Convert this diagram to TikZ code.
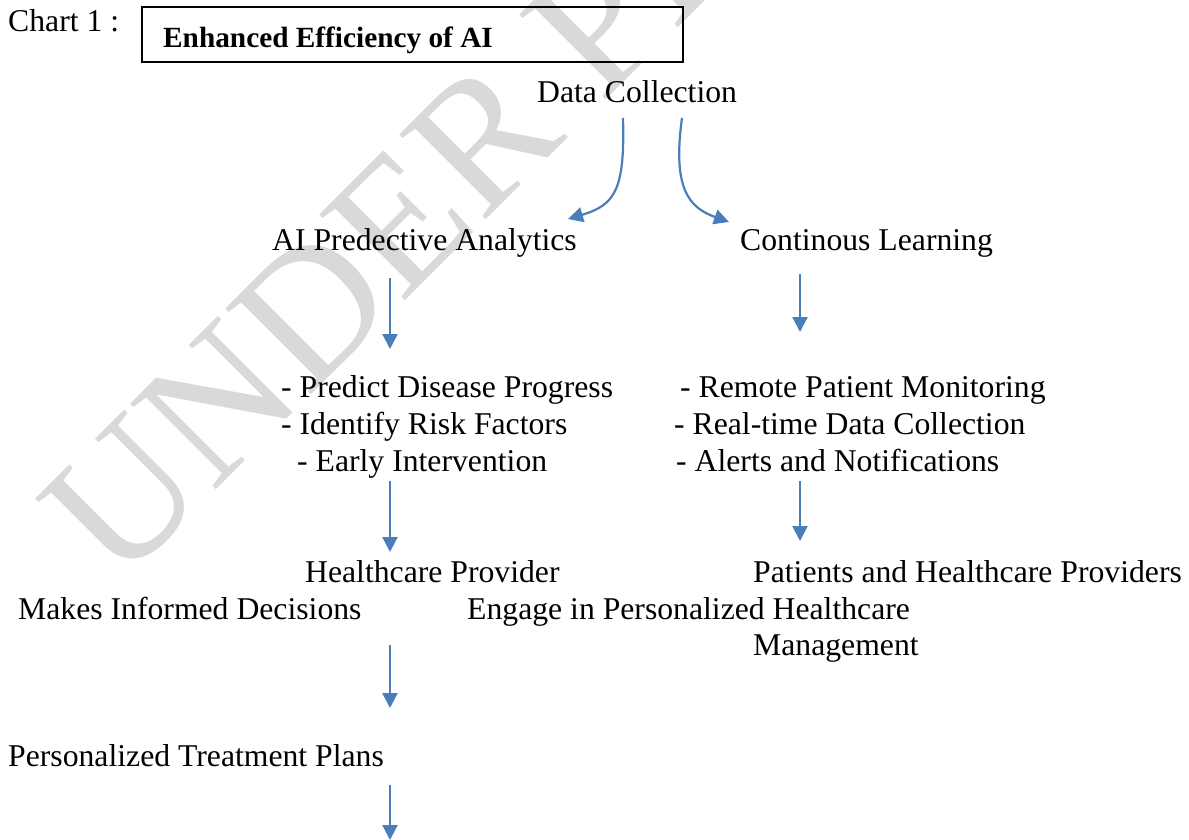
\documentclass[tikz,border=0pt]{standalone}
\usepackage{fontspec}
\setmainfont{Liberation Serif}
\usetikzlibrary{arrows.meta}
\definecolor{arrblue}{HTML}{4A7EBB}
\definecolor{wmgray}{HTML}{D9D9D9}
\tikzset{
  txt/.style={inner sep=0pt, anchor=base west, font=\fontsize{31.7}{38}\selectfont},
  flow/.style={draw=arrblue, line width=2.2pt, -{Triangle[width=15pt,length=15pt]}},
}
\begin{document}
\begin{tikzpicture}[x=1pt,y=-1pt]
\useasboundingbox (0,0) rectangle (1189,839);
% watermark
\begin{scope}
\clip (0,0) rectangle (1189,839);
\node[inner sep=0pt, anchor=base west, rotate=45, text=wmgray, font=\fontsize{185}{185}\selectfont] (wm) at (118,588) {UNDER PEER REVIEW};
\end{scope}
% title
\node[txt] (chart) at (8,31) {Chart 1 :};
\draw[line width=2pt] (142,7) rectangle (683,62);
\node[txt, font=\fontsize{29.3}{35}\selectfont\bfseries] (title) at (163,47) {Enhanced Efficiency of AI};
% nodes
\node[txt] (dc) at (537,102) {Data Collection};
\node[txt] (apa) at (272,250) {AI Predective Analytics};
\node[txt] (cl) at (740,250) {Continous Learning};
\node[txt] (l1) at (281,397) {- Predict Disease Progress};
\node[txt] (l2) at (281,434) {- Identify Risk Factors};
\node[txt] (l3) at (297,471) {- Early Intervention};
\node[txt] (r1) at (680,397) {- Remote Patient Monitoring};
\node[txt] (r2) at (674,434) {- Real-time Data Collection};
\node[txt] (r3) at (676,471) {- Alerts and Notifications};
\node[txt] (hp) at (305,582) {Healthcare Provider};
\node[txt] (ph) at (753,582) {Patients and Healthcare Providers};
\node[txt] (mid) at (18,619) {Makes Informed Decisions};
\node[txt] (eng) at (467,619) {Engage in Personalized Healthcare};
\node[txt] (mgmt) at (753,655) {Management};
\node[txt] (ptp) at (8,766) {Personalized Treatment Plans};
% connector ends
\coordinate (dcL) at (623,118);
\coordinate (dcR) at (682,118);
\coordinate (apaIn) at (568,219);
\coordinate (clIn) at (729,222);
\coordinate (a1s) at (390,278); \coordinate (a1e) at (390,349);
\coordinate (b1s) at (800,274); \coordinate (b1e) at (800,332);
\coordinate (a2s) at (390,481); \coordinate (a2e) at (390,552);
\coordinate (b2s) at (800,481); \coordinate (b2e) at (800,541);
\coordinate (a3s) at (390,645); \coordinate (a3e) at (390,708);
\coordinate (a4s) at (390,785); \coordinate (a4e) at (390,840);
% connectors
\draw[flow] (dcL) .. controls (625,190) and (615,205) .. (apaIn);
\draw[flow] (dcR) .. controls (672,190) and (690,208) .. (clIn);
\draw[flow] (a1s) -- (a1e);
\draw[flow] (b1s) -- (b1e);
\draw[flow] (a2s) -- (a2e);
\draw[flow] (b2s) -- (b2e);
\draw[flow] (a3s) -- (a3e);
\draw[flow] (a4s) -- (a4e);
\end{tikzpicture}
\end{document}
